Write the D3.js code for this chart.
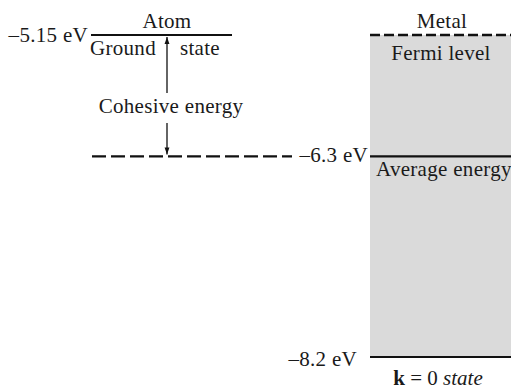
<!DOCTYPE html>
<html><head><meta charset="utf-8">
<script src="https://cdn.jsdelivr.net/npm/d3@7"></script>
<style>body{margin:0;background:#fff}svg{display:block}text{font-family:"Liberation Serif","DejaVu Serif",serif;fill:#1a1a1a}</style>
</head><body>
<script>
// Energy levels (eV)
const atomLevel = -5.15;
const averageEnergy = -6.3;
const bandBottom = -8.2;
const fermiLevel = -5.15;
const levelLabels = ["–5.15 eV", "–6.3 eV", "–8.2 eV"];
const headers = ["Atom", "Metal"];

const W = 511, H = 390;
const svg = d3.select("body").append("svg").attr("width", W).attr("height", H);
const y = d3.scaleLinear().domain([atomLevel, bandBottom]).range([35, 357]);

const atomX0 = 91, atomX1 = 232, metalX0 = 370, metalX1 = 511;

// Metal band
svg.append("rect").attr("x", metalX0).attr("y", y(fermiLevel)).attr("width", metalX1 - metalX0)
  .attr("height", y(bandBottom) - y(fermiLevel)).attr("fill", "#dadada");
svg.append("line").attr("x1", metalX0).attr("x2", metalX1).attr("y1", y(fermiLevel)).attr("y2", y(fermiLevel))
  .attr("stroke", "#111").attr("stroke-width", 2.5).attr("stroke-dasharray", "10,4");
svg.append("line").attr("x1", metalX0).attr("x2", metalX1).attr("y1", y(averageEnergy)).attr("y2", y(averageEnergy))
  .attr("stroke", "#111").attr("stroke-width", 2.2);
svg.append("line").attr("x1", metalX0).attr("x2", metalX1).attr("y1", y(bandBottom)).attr("y2", y(bandBottom))
  .attr("stroke", "#111").attr("stroke-width", 2.2);

// Atom ground state
svg.append("line").attr("x1", atomX0).attr("x2", atomX1).attr("y1", y(atomLevel)).attr("y2", y(atomLevel))
  .attr("stroke", "#111").attr("stroke-width", 2.2);
svg.append("line").attr("x1", 92).attr("x2", 292).attr("y1", y(averageEnergy)).attr("y2", y(averageEnergy))
  .attr("stroke", "#111").attr("stroke-width", 2.2).attr("stroke-dasharray", "14,5");

// Arrows
const defs = svg.append("defs");
defs.append("marker").attr("id", "ah").attr("viewBox", "0 0 10 10").attr("refX", 10).attr("refY", 5)
  .attr("markerWidth", 7).attr("markerHeight", 8).attr("markerUnits", "userSpaceOnUse").attr("orient", "auto")
  .append("path").attr("d", "M0,1.5L10,5L0,8.5Z").attr("fill", "#111");
const ax = 167;
svg.append("line").attr("x1", ax).attr("x2", ax).attr("y1", 93).attr("y2", y(atomLevel) + 2)
  .attr("stroke", "#111").attr("stroke-width", 1.3).attr("marker-end", "url(#ah)");
svg.append("line").attr("x1", ax).attr("x2", ax).attr("y1", 123).attr("y2", y(averageEnergy) - 2)
  .attr("stroke", "#111").attr("stroke-width", 1.3).attr("marker-end", "url(#ah)");

const fs = 21;
function t(str, xx, yy, anchor) {
  return svg.append("text").attr("x", xx).attr("y", yy).attr("text-anchor", anchor || "start")
    .attr("font-size", fs).attr("letter-spacing", 0.3).text(str);
}
t(headers[0], 167, 28, "middle");
t(headers[1], 442, 28, "middle");
t(levelLabels[0], 88, 42, "end");
t("Ground", 90, 55, "start");
t("state", 180, 55, "start");
t("Cohesive energy", 171, 113, "middle");
t("Fermi level", 441, 60, "middle");
t(levelLabels[1], 368, 162, "end");
t("Average energy", 376, 176, "start");
t(levelLabels[2], 357, 366, "end");
const k = svg.append("text").attr("x", 438).attr("y", 385).attr("text-anchor", "middle").attr("font-size", fs);
k.append("tspan").attr("font-weight", "bold").text("k");
k.append("tspan").text(" = 0 ");
k.append("tspan").attr("font-style", "italic").text("state");
</script>
</body></html>
